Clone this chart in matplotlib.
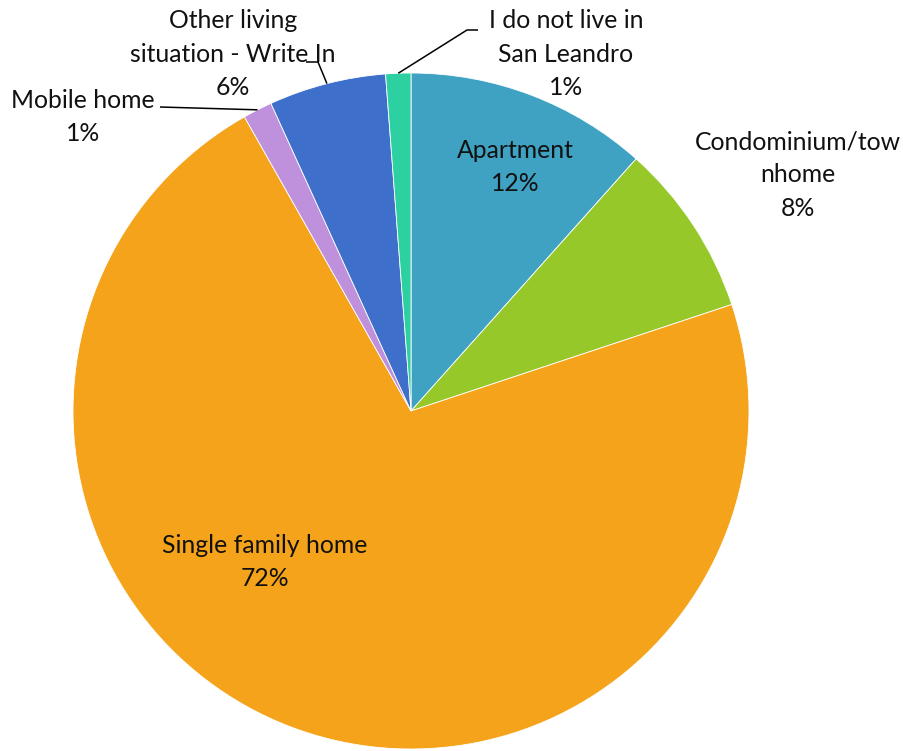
import matplotlib
matplotlib.use("Agg")
import matplotlib.pyplot as plt
import numpy as np

categories = ["Apartment", "Condominium/tow\nnhome", "Single family home",
              "Mobile home", "Other living\nsituation - Write In",
              "I do not live in\nSan Leandro"]
values = [11.6, 8.3, 71.9, 1.4, 5.6, 1.2]
pct_labels = ["12%", "8%", "72%", "1%", "6%", "1%"]
colors = ["#3fa2c3", "#96c82a", "#f4a31a", "#bf90db", "#3d6fcb", "#2dd0a0"]

W, H = 904, 751
fig = plt.figure(figsize=(W / 100, H / 100), dpi=100)
ax = fig.add_axes([0, 0, 1, 1])

cx, cy, R = 411, H - 411, 338
wedges, _ = ax.pie(values, colors=colors, startangle=90, counterclock=False,
                   center=(cx, cy), radius=R, frame=True,
                   wedgeprops=dict(linewidth=0.6, edgecolor="white"))
ax.set_xlim(0, W)
ax.set_ylim(0, H)
ax.set_aspect("equal")
ax.axis("off")

font = dict(family=["Lato", "DejaVu Sans"], fontsize=17.8, color="#111111",
            ha="center", va="center", linespacing=1.55)

# label anchor positions (pixel coords from top-left) and leader options
label_pos = [(515, 167), (798, 175), (265, 562), (83, 117), (233, 54), (566, 54)]
leaders = [None, None, None,
           [(160, 107)],
           [(318, 62), (306, 62)],
           [(467, 30), (478, 30)]]

for i, (w, cat, pct) in enumerate(zip(wedges, categories, pct_labels)):
    x, y = label_pos[i]
    ax.text(x, H - y, f"{cat}\n{pct}", **font)
    if leaders[i]:
        ang = np.deg2rad((w.theta1 + w.theta2) / 2)
        ex, ey = cx + R * np.cos(ang), cy + R * np.sin(ang)
        pts = [(ex, ey)] + [(px, H - py) for px, py in leaders[i]]
        xs, ys = zip(*pts)
        ax.plot(xs, ys, color="black", lw=1.1, solid_capstyle="butt")

fig.savefig("out.png", dpi=100, facecolor="white")
